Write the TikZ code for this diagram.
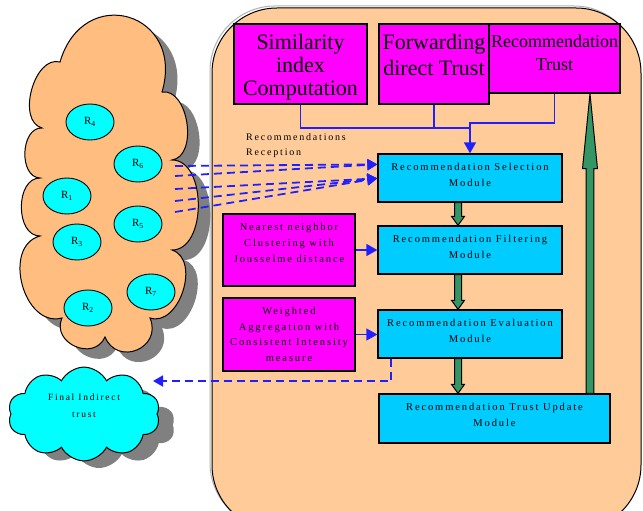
\documentclass[tikz,border=0pt]{standalone}
\usepackage{fontspec}
\setmainfont{Liberation Serif}
\newfontfamily\spaced[LetterSpace=18]{Liberation Serif}
\usetikzlibrary{shapes.symbols,shapes.geometric,arrows.meta,calc}
\definecolor{peach}{RGB}{255,204,153}
\definecolor{sand}{RGB}{255,190,128}
\definecolor{magen}{RGB}{255,0,255}
\definecolor{cyanbox}{RGB}{0,204,255}
\definecolor{cyanell}{RGB}{0,255,255}
\definecolor{arrgreen}{RGB}{51,150,100}
\definecolor{lineblue}{RGB}{32,32,255}
\definecolor{shadowgrey}{RGB}{128,128,128}
\newcommand\tb[4]{\parbox[c][#2pt][t]{#1pt}{\centering\vspace*{#3pt}#4\par}}
\newcommand\fatdown[5]{\filldraw[fat] let \p1=#1,\p2=#2 in
  (\x1-#3pt,\y1)--(\x1-#3pt,\y2+#5pt)--(\x1-#4pt,\y2+#5pt)--(\x1,\y2)--(\x1+#4pt,\y2+#5pt)--(\x1+#3pt,\y2+#5pt)--(\x1+#3pt,\y1)--cycle;}
\newcommand\fatup[5]{\filldraw[fat] let \p1=#1,\p2=#2 in
  (\x1-#3pt,\y1)--(\x1-#3pt,\y2-#5pt)--(\x1-#4pt,\y2-#5pt)--(\x1,\y2)--(\x1+#4pt,\y2-#5pt)--(\x1+#3pt,\y2-#5pt)--(\x1+#3pt,\y1)--cycle;}
\newcommand\crowdpath{(60,62) to[bend left=90,looseness=2] (162,92)
  to[bend left=90,looseness=1] (172,160)
  to[bend left=90,looseness=1] (172,250)
  to[bend left=90,looseness=1.1] (150,318)
  to[bend left=90,looseness=1.7] (105,337)
  to[bend left=90,looseness=1.5] (62,318)
  to[bend left=90,looseness=1.2] (40,236)
  to[bend left=90,looseness=1.1] (40,178)
  to[bend left=90,looseness=1.1] (42,128)
  to[bend left=90,looseness=1] (60,62) -- cycle}
\tikzset{
  box/.style={draw, line width=1.3pt, inner sep=0pt},
  magbox/.style={box, fill=magen},
  cybox/.style={box, fill=cyanbox},
  rnode/.style={ellipse, draw, line width=0.9pt, fill=cyanell, minimum width=48pt, minimum height=36pt, inner sep=0pt, font=\fontsize{11}{12}\selectfont},
  fat/.style={draw=black, line width=1pt, fill=arrgreen},
  bl/.style={draw=lineblue, line width=1.6pt},
  blarrow/.style={bl, -{Triangle[length=11pt,width=12pt]}},
  dl/.style={draw=lineblue, line width=1.8pt, dash pattern=on 8pt off 5pt, -{Triangle[length=10pt,width=11pt]}},
  smallcloud/.style={cloud, cloud puffs=10, cloud puff arc=125, cloud ignores aspect, minimum width=152pt, minimum height=86pt},
}
\begin{document}
\begin{tikzpicture}[x=1pt,y=-1pt]
\clip (0,0) rectangle (643,511);
% panel
\node[draw=shadowgrey!60, line width=1pt, rounded corners=65pt, minimum width=429pt, minimum height=522pt] (panelshadow) at (424.5,267) {};
\node[draw, line width=1pt, fill=peach, rounded corners=65pt, minimum width=429pt, minimum height=522pt] (panel) at (426.5,269) {};
% crowd cloud
\fill[shadowgrey, shift={(12,10)}] \crowdpath;
\filldraw[fill=sand, draw=black, line width=1pt] \crowdpath;
\node[rnode] (r4) at (90,122) {R\textsubscript{4}};
\node[rnode] (r6) at (138,164) {R\textsubscript{6}};
\node[rnode] (r1) at (67,196) {R\textsubscript{1}};
\node[rnode] (r5) at (138,224) {R\textsubscript{5}};
\node[rnode] (r3) at (77,242) {R\textsubscript{3}};
\node[rnode] (r7) at (151,292) {R\textsubscript{7}};
\node[rnode] (r2) at (88,308) {R\textsubscript{2}};
% final cloud
\node[smallcloud, fill=shadowgrey] (finshadow) at (99,425) {};
\node[smallcloud, draw, line width=1pt, fill=cyanell, inner sep=0pt] (fin) at (84,414) {\tb{100}{50}{0}{\spaced\fontsize{9.5}{17}\selectfont\strut Final Indirect\\trust}};
% top boxes
\node[magbox] (sim) at (300.5,64) {\tb{133}{80}{9.5}{\fontsize{22}{23}\selectfont\strut Similarity\\index\\Computation}};
\node[magbox] (fwd) at (434,64) {\tb{110}{80}{7.4}{\fontsize{22}{26}\selectfont\strut Forwarding\\direct Trust}};
\node[magbox] (rtr) at (554.5,58.5) {\tb{131}{69}{7.3}{\fontsize{18}{23}\selectfont\strut Recommendation\\Trust}};
% left boxes
\node[magbox] (nn) at (289,250) {\tb{132}{72}{4.8}{\spaced\fontsize{10.5}{16}\selectfont\strut Nearest neighbor\\Clustering with\\Jousselme distance}};
\node[magbox] (wa) at (289,334.5) {\tb{132}{73}{5.8}{\spaced\fontsize{10.5}{15.5}\selectfont\strut Weighted\\Aggregation with\\Consistent Intensity\\measure}};
% module boxes
\node[cybox] (sel) at (470,178) {\tb{184}{48}{4.8}{\spaced\fontsize{10.5}{16}\selectfont\strut Recommendation Selection\\Module}};
\node[cybox] (fil) at (470,250) {\tb{184}{48}{4.8}{\spaced\fontsize{10.5}{16}\selectfont\strut Recommendation Filtering\\Module}};
\node[cybox] (eva) at (470,334) {\tb{184}{48}{4.8}{\spaced\fontsize{10.5}{16}\selectfont\strut Recommendation Evaluation\\Module}};
\node[cybox] (upd) at (494.5,418.5) {\tb{231}{49}{4.8}{\spaced\fontsize{10.5}{16}\selectfont\strut Recommendation Trust Update\\Module}};
% reception label
\node[anchor=north west, inner sep=0pt, align=left, font=\spaced\fontsize{10}{15}\selectfont] (recep) at (246,133) {Recommendations\\Reception};
% top blue connectors
\coordinate (jA) at (470,128);
\coordinate (jB) at (470,123);
\draw[bl] (sim.south) |- (jA);
\draw[bl] (fwd.south) -- (fwd.south |- jA);
\draw[blarrow] (rtr.south) |- (jB) -- (sel.north);
% left blue arrows
\draw[blarrow] (nn.east) -- (nn.east -| fil.west);
\draw[blarrow] (wa.east) -- (wa.east -| eva.west);
% dashed reception arrows
\coordinate (d1) at (175,166);
\coordinate (d2) at (175,176);
\coordinate (d3) at (175,189);
\coordinate (d4) at (175,201);
\coordinate (d5) at (175,212);
\coordinate (tA) at ($(sel.north west)+(0,11)$);
\coordinate (tB) at ($(sel.north west)+(0,25)$);
\draw[dl] (d1) -- (tA);
\draw[dl] (d2) -- (tA);
\draw[dl] (d3) -- (tB);
\draw[dl] (d4) -- (tB);
\draw[dl] (d5) -- (tB);
% dashed output arrow
\coordinate (eS) at ($(eva.south west)+(14,0)$);
\coordinate (fe) at (153,381);
\draw[dl] (eS) |- (fe);
% green arrows
\fatdown{($(sel.south)+(-12,0)$)}{($(fil.north)+(-12,0)$)}{3.5}{6.5}{9}
\fatdown{($(fil.south)+(-12,0)$)}{($(eva.north)+(-12,0)$)}{3.5}{6.5}{9}
\fatdown{($(eva.south)+(-12,0)$)}{($(upd.north)+(-12,0)$)}{3.5}{6.5}{9}
\fatup{($(upd.north)+(95.5,0)$)}{(rtr.south)}{3.8}{7.5}{75}
\end{tikzpicture}
\end{document}
